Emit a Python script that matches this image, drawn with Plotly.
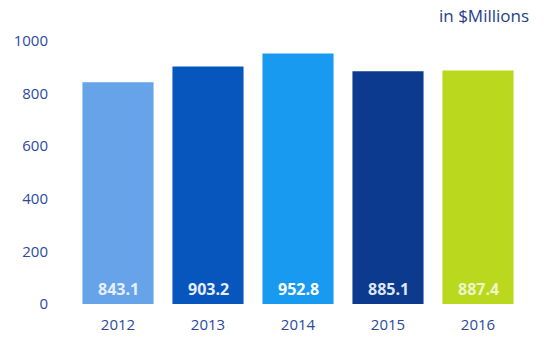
import plotly.graph_objects as go

years = ["2012", "2013", "2014", "2015", "2016"]
values = [843.1, 903.2, 952.8, 885.1, 887.4]
bar_colors = ["#66a3e8", "#0656bd", "#179af0", "#0b3a8e", "#b9d81e"]
label_colors = ["#e6effb", "#e8eefa", "#ffffff", "#dfe6f3", "#eef5c8"]
y_ticks = [0, 200, 400, 600, 800, 1000]

axis_blue = "#2b4a9c"

fig = go.Figure(
    go.Bar(
        x=years,
        y=values,
        marker=dict(color=bar_colors, line=dict(width=0)),
        hoverinfo="skip",
    )
)

# value labels sitting near the base of each bar (x given as category index)
for i, (v, c) in enumerate(zip(values, label_colors)):
    fig.add_annotation(
        x=i, y=0, yanchor="bottom", yshift=2,
        text=f"<b>{v:.1f}</b>", showarrow=False,
        font=dict(family="Open Sans", size=16, color=c),
    )

fig.add_annotation(
    xref="paper", yref="paper", x=1.017, y=1.045,
    xanchor="right", yanchor="bottom",
    text="in $Millions", showarrow=False,
    font=dict(family="Open Sans", size=17, color="#1e3f88"),
)

fig.update_layout(
    width=544, height=339,
    margin=dict(l=73, r=21, t=41, b=35),
    paper_bgcolor="white", plot_bgcolor="white",
    bargap=0.21,
    showlegend=False,
    font=dict(family="Open Sans", size=15, color=axis_blue),
)
fig.update_xaxes(
    type="category", range=[-0.5, len(years) - 0.5], automargin=False,
    showline=False, showgrid=False, ticks="", ticklabelstandoff=10,
    tickfont=dict(family="Open Sans", size=15, color=axis_blue),
)
fig.update_yaxes(
    range=[0, 1000], tickvals=y_ticks, showgrid=False, zeroline=False,
    automargin=False, showline=False, ticks="", ticklabelstandoff=24,
    tickfont=dict(family="Open Sans", size=15, color=axis_blue),
)

fig.write_html("out.html")
